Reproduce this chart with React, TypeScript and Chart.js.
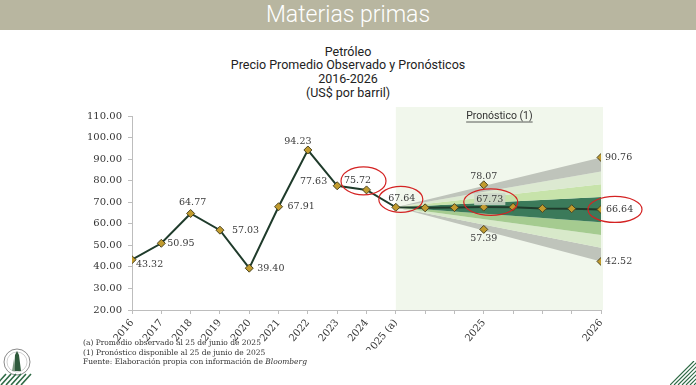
import React, { useEffect, useRef } from 'react';
import { Chart, registerables } from 'chart.js';

Chart.register(...registerables);

// ---------------- DATA ----------------
const xLabels = ['2016', '2017', '2018', '2019', '2020', '2021', '2022', '2023', '2024', '2025 (a)', '', '', '2025', '', '', '', '2026'];
const priceValues = [43.32, 50.95, 64.77, 57.03, 39.4, 67.91, 94.23, 77.63, 75.72, 67.64, 67.4, 67.5, 67.73, 67.7, 67.1, 67.0, 66.64];
const fanStartIndex = 9;
const fanEndIndex = 16;
const fanStartValue = 67.64;
const fanEdgeEndValues = [90.76, 84.2, 78.3, 72.4, 60.7, 54.8, 48.9, 42.52];
const rangeIndex = [12, 12, 16, 16];
const rangeValues = [78.07, 57.39, 90.76, 42.52];
const yMin = 20;
const yMax = 110;
const yStep = 10;
const labeledIndex = [0, 1, 2, 3, 4, 5, 6, 7, 8, 9, 12, 16];
const highlightedIndex = [8, 9, 12, 16];

// ---------------- STYLES ----------------
const SERIF = '"DejaVu Serif", "Liberation Serif", serif';
const SANS = 'Roboto, "Noto Sans", sans-serif';
const bandColors = ['#bfc4bb', '#dce9d1', '#c7e3aa', '#3b7a5a', '#a5cb90', '#d8e9ca', '#bfc4bb'];
// label placement for each labeled point of the main series: [dx, dy, align]
const mainLabelPlacement: [number, number, CanvasTextAlign][] = [
  [4, 5, 'left'], [6, 0, 'left'], [2, -11, 'center'], [12, 0, 'left'], [8, 0, 'left'],
  [9, 0, 'left'], [-10, -8, 'center'], [-10, -4, 'right'], [-9, -9, 'center'], [6, -9, 'center'],
  [6, -8, 'center'], [5, 0, 'left'],
];
const rangeLabelPlacement: [number, number, CanvasTextAlign][] = [
  [0, -8, 'center'], [0, 9, 'center'], [4, 0, 'left'], [4, 0, 'left'],
];
// red ellipses around highlighted points: [dx, dy, rx, ry]
const ellipsePlacement = [
  [-3, -9, 22.5, 14], [5, -8, 22, 13], [7, -5, 27, 13.3], [14, 0, 27, 13],
];

const fmt = (v: number) => v.toFixed(2);

const forecastPlugin = {
  id: 'forecastBg',
  beforeDraw(chart: any) {
    const { ctx, chartArea, scales } = chart;
    const x = scales.x;
    const x0 = x.getPixelForValue(fanStartIndex);
    const x1 = x.getPixelForValue(fanEndIndex) + 2;
    ctx.save();
    ctx.fillStyle = '#f1f7ec';
    ctx.fillRect(x0, chartArea.top - 9, x1 - x0, chartArea.bottom - chartArea.top + 9);
    ctx.fillStyle = '#333';
    ctx.font = `10.5px ${SANS}`;
    ctx.textAlign = 'center';
    ctx.textBaseline = 'middle';
    const cx = (x0 + x1) / 2;
    const cy = chartArea.top;
    const t = 'Pronóstico (1)';
    ctx.fillText(t, cx, cy);
    const w = ctx.measureText(t).width;
    ctx.strokeStyle = '#333';
    ctx.lineWidth = 0.8;
    ctx.beginPath();
    ctx.moveTo(cx - w / 2, cy + 6);
    ctx.lineTo(cx + w / 2, cy + 6);
    ctx.stroke();
    ctx.restore();
  },
};

const labelsPlugin = {
  id: 'pointLabels',
  afterDatasetsDraw(chart: any) {
    const { ctx, scales } = chart;
    const x = scales.x;
    const y = scales.y;
    ctx.save();
    ctx.font = `9.5px ${SERIF}`;
    ctx.textBaseline = 'middle';
    const draw = (i: number, v: number, p: [number, number, CanvasTextAlign], boxed: boolean) => {
      const px = x.getPixelForValue(i) + p[0];
      const py = y.getPixelForValue(v) + p[1];
      const text = fmt(v);
      ctx.textAlign = p[2];
      if (boxed) {
        const w = ctx.measureText(text).width;
        ctx.fillStyle = 'rgba(205,214,200,0.85)';
        ctx.fillRect(px - w / 2 - 2, py - 6, w + 4, 12);
      }
      ctx.fillStyle = '#3a3a3a';
      ctx.fillText(text, px, py);
    };
    labeledIndex.forEach((i, k) => draw(i, priceValues[i], mainLabelPlacement[k], i === 12));
    rangeValues.forEach((v, k) => draw(rangeIndex[k], v, rangeLabelPlacement[k], false));

    ctx.strokeStyle = '#d42323';
    ctx.lineWidth = 1.2;
    highlightedIndex.forEach((i, k) => {
      const e = ellipsePlacement[k];
      const px = x.getPixelForValue(i) + e[0];
      const py = y.getPixelForValue(priceValues[i]) + e[1];
      ctx.beginPath();
      ctx.ellipse(px, py, e[2], e[3], 0, 0, Math.PI * 2);
      ctx.stroke();
    });
    ctx.restore();
  },
};

function OilChart() {
  const ref = useRef<HTMLCanvasElement | null>(null);
  useEffect(() => {
    if (!ref.current) return;
    const bandDatasets = fanEdgeEndValues.map((v, k) => ({
      type: 'line' as const,
      data: [
        { x: fanStartIndex, y: fanStartValue },
        { x: fanEndIndex, y: v },
      ],
      borderWidth: 0,
      borderColor: 'rgba(0,0,0,0)',
      pointRadius: 0,
      backgroundColor: k < bandColors.length ? bandColors[k] : 'rgba(0,0,0,0)',
      fill: k < fanEdgeEndValues.length - 1 ? '+1' : false,
      order: 10,
      tension: 0,
    }));
    const markerStyle = {
      pointStyle: 'rectRot' as const,
      pointRadius: 4,
      pointBackgroundColor: '#c19b2e',
      pointBorderColor: '#4b4521',
      pointBorderWidth: 1,
    };
    const chart = new Chart(ref.current, {
      type: 'line',
      data: {
        datasets: [
          ...bandDatasets,
          {
            type: 'line',
            data: priceValues.map((v, i) => ({ x: i, y: v })),
            borderColor: '#1f3b2b',
            borderWidth: 2,
            fill: false,
            tension: 0,
            order: 1,
            ...markerStyle,
          },
          {
            type: 'line',
            data: rangeValues.map((v, k) => ({ x: rangeIndex[k], y: v })),
            showLine: false,
            fill: false,
            order: 0,
            ...markerStyle,
          },
        ] as any,
      },
      options: {
        responsive: false,
        animation: false,
        layout: { padding: { left: 82, top: 116, right: 95, bottom: 35 } },
        plugins: { legend: { display: false }, tooltip: { enabled: false }, title: { display: false } },
        scales: {
          x: {
            type: 'linear',
            min: 0,
            max: fanEndIndex,
            afterFit: (s: any) => { s.height = 40; },
            ticks: {
              stepSize: 1,
              autoSkip: false,
              minRotation: 50,
              maxRotation: 50,
              padding: 3,
              color: '#333',
              font: { family: SERIF, size: 10 },
              callback: (v: any) => xLabels[v] ?? '',
            },
            grid: { drawOnChartArea: false, tickLength: 4, color: '#bdbdbd' },
            border: { color: '#bdbdbd' },
          },
          y: {
            min: yMin,
            max: yMax,
            afterFit: (s: any) => { s.width = 50; },
            ticks: {
              stepSize: yStep,
              padding: 6,
              color: '#333',
              font: { family: SERIF, size: 10 },
              callback: (v: any) => Number(v).toFixed(2),
            },
            grid: { drawOnChartArea: false, tickLength: 4, color: '#bdbdbd' },
            border: { color: '#bdbdbd' },
          },
        },
      },
      plugins: [forecastPlugin, labelsPlugin],
    });
    return () => chart.destroy();
  }, []);
  return <canvas ref={ref} width={696} height={385} style={{ position: 'absolute', left: 0, top: 0 }} />;
}

function Logo() {
  return (
    <svg width={34} height={42} style={{ position: 'absolute', left: 0, top: 343 }}>
      <circle cx={17} cy={19} r={13} fill="#fff" stroke="#8a8a8a" strokeWidth={1} />
      <circle cx={17} cy={19} r={10} fill="none" stroke="#b0b0b0" strokeWidth={0.6} />
      <path d="M14 28 L15 12 L17 8 L19 12 L21 28 Z" fill="#2f5a3c" />
      <path d="M12 28 L14 16 L15 28 Z" fill="#7f9a83" />
      {[0, 1, 2, 3, 4, 5].map((k) => (
        <line key={k} x1={k * 5 - 4} y1={42} x2={k * 5 + 6} y2={31} stroke="#2e6a45" strokeWidth={1.6} />
      ))}
    </svg>
  );
}

function CornerStripes() {
  return (
    <svg width={26} height={24} style={{ position: 'absolute', left: 670, top: 361 }}>
      {[0, 1, 2, 3, 4, 5, 6].map((k) => (
        <line key={k} x1={k * 4} y1={24} x2={k * 4 + 24} y2={0} stroke="#2e6a45" strokeWidth={1.2} />
      ))}
    </svg>
  );
}

export default function App() {
  const titleLines = ['Petróleo', 'Precio Promedio Observado y Pronósticos', '2016-2026', '(US$ por barril)'];
  return (
    <div style={{ position: 'absolute', left: 0, top: 0, width: 696, height: 385, overflow: 'hidden', background: '#fff' }}>
      <div
        style={{
          position: 'absolute', left: 0, top: 0, width: 696, height: 30, background: '#b8b6a0',
          color: '#fff', fontFamily: SANS, fontWeight: 300, fontSize: 23, lineHeight: '30px', textAlign: 'center',
        }}
      >
        Materias primas
      </div>
      <div
        style={{
          position: 'absolute', left: 0, top: 44.5, width: 696, textAlign: 'center', fontFamily: SANS,
          fontSize: 12.5, lineHeight: '13.7px', color: '#222',
        }}
      >
        {titleLines.map((t) => (
          <div key={t}>{t}</div>
        ))}
      </div>
      <OilChart />
      <div
        style={{
          position: 'absolute', left: 83, top: 338, fontFamily: SERIF, fontSize: 7.5, lineHeight: '9.5px', color: '#333',
        }}
      >
        <div>(a) Promedio observado al 25 de junio de 2025</div>
        <div>(1) Pronóstico disponible al 25 de junio de 2025</div>
        <div>
          Fuente: Elaboración propia con información de <i>Bloomberg</i>
        </div>
      </div>
      <Logo />
      <CornerStripes />
    </div>
  );
}
